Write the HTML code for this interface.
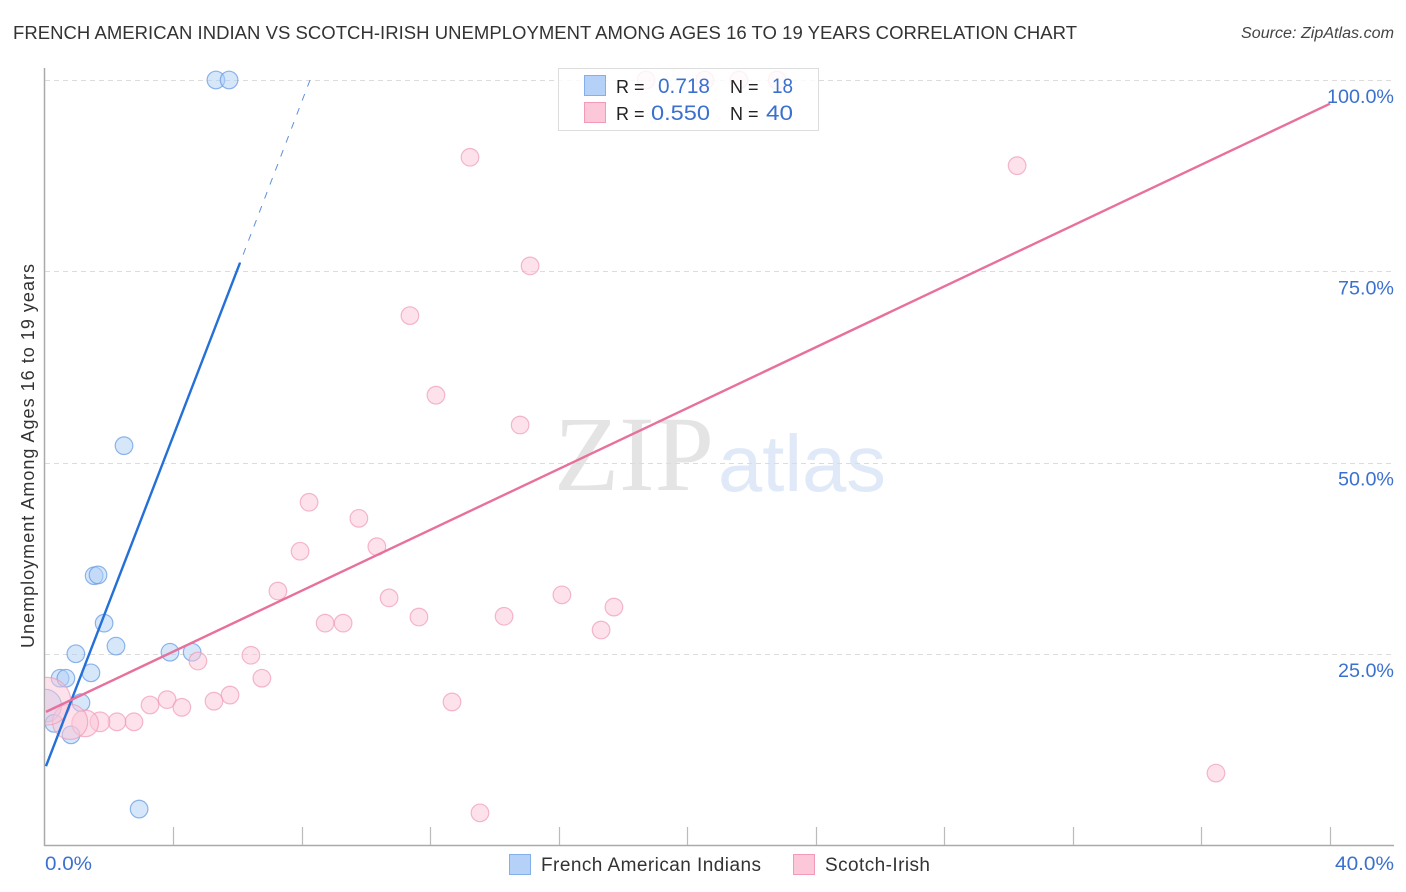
<!DOCTYPE html>
<html lang="en">
<head>
<meta charset="utf-8">
<title>French American Indian vs Scotch-Irish Unemployment Correlation Chart</title>
<style>
html,body{margin:0;padding:0;background:#fff;}
svg{display:block;font-family:"Liberation Sans",sans-serif;}
</style>
</head>
<body>
<svg id="chart" xmlns="http://www.w3.org/2000/svg" width="1406" height="892" viewBox="0 0 1406 892">
  <defs>
    <clipPath id="plot-clip"><rect x="45" y="60" width="1350" height="785"></rect></clipPath>
  </defs>
  <text x="13" y="39" font-size="18.5" fill="#333" textLength="1064" lengthAdjust="spacing">FRENCH AMERICAN INDIAN VS SCOTCH-IRISH UNEMPLOYMENT AMONG AGES 16 TO 19 YEARS CORRELATION CHART</text>
  <text x="1241" y="38" font-size="15.5" font-style="italic" fill="#444" textLength="153" lengthAdjust="spacingAndGlyphs">Source: ZipAtlas.com</text>

  <g>
    <text x="554" y="490" font-family="'Liberation Serif',serif" font-size="107" fill="#e4e4e4" textLength="160" lengthAdjust="spacingAndGlyphs">ZIP</text>
    <text x="718" y="491" font-size="80" fill="#dfe9f8" textLength="168" lengthAdjust="spacingAndGlyphs">atlas</text>
  </g>

  <g id="grid"></g>
  <g id="axes"></g>
  <g id="points" clip-path="url(#plot-clip)"></g>
  <g id="trends"></g>
  <g id="tick-labels"></g>

  <text transform="translate(34,456) rotate(-90)" font-size="18" fill="#333" text-anchor="middle" textLength="384" lengthAdjust="spacing">Unemployment Among Ages 16 to 19 years</text>

  <g>
    <rect x="558.5" y="68.5" width="260" height="62" fill="#fff" fill-opacity="0.82" stroke="#ddd" stroke-width="1"></rect>
    <rect x="584.5" y="75.5" width="21" height="20" fill="#b5d1f7" stroke="#84b0ea"></rect>
    <rect x="584.5" y="102.5" width="21" height="20" fill="#fcc8d9" stroke="#f29ab6"></rect>
    <text x="616" y="93" font-size="18" fill="#222">R =</text>
    <text x="658" y="93" font-size="21" fill="#3a70cf" textLength="52" lengthAdjust="spacingAndGlyphs">0.718</text>
    <text x="730" y="93" font-size="18" fill="#222">N =</text>
    <text x="772" y="93" font-size="21" fill="#3a70cf" textLength="21" lengthAdjust="spacingAndGlyphs">18</text>
    <text x="616" y="120" font-size="18" fill="#222">R =</text>
    <text x="651" y="120" font-size="21" fill="#3a70cf" textLength="59" lengthAdjust="spacingAndGlyphs">0.550</text>
    <text x="730" y="120" font-size="18" fill="#222">N =</text>
    <text x="766" y="120" font-size="21" fill="#3a70cf" textLength="27" lengthAdjust="spacingAndGlyphs">40</text>
  </g>

  <g>
    <g>
      <rect x="509.5" y="854.5" width="21" height="20" fill="#b5d1f7" stroke="#84b0ea"></rect>
      <text x="541" y="871" font-size="19" fill="#333" textLength="220" lengthAdjust="spacing">French American Indians</text>
    </g>
    <g>
      <rect x="793.5" y="854.5" width="21" height="20" fill="#fcc8d9" stroke="#f29ab6"></rect>
      <text x="825" y="871" font-size="19" fill="#333" textLength="105" lengthAdjust="spacing">Scotch-Irish</text>
    </g>
  </g>
</svg>
<script>
const xTickValues = [0, 4, 8, 12, 16, 20, 24, 28, 32, 36, 40];
const yGridValues = [25, 50, 75, 100];
const yTickLabels = ["25.0%", "50.0%", "75.0%", "100.0%"];
const xEndLabels = ["0.0%", "40.0%"];

const blueX = [5.32, 5.73, 2.46, 1.53, 1.65, 1.84, 2.21, 0.96, 3.89, 4.58, 1.43, 0.47, 0.65, 1.12, 0.0, 0.28, 0.81, 2.93];
const blueY = [100, 100, 52.2, 35.2, 35.3, 29.0, 26.0, 25.0, 25.2, 25.2, 22.5, 21.8, 21.8, 18.6, 18.2, 15.9, 14.4, 4.7];
const blueWeight = [1, 1, 1, 1, 1, 1, 1, 1, 1, 1, 1, 1, 1, 1, 3.5, 1, 1, 1];

const pinkX = [18.71, 20.54, 21.6, 22.79, 13.23, 30.26, 15.1, 11.36, 12.17, 14.79, 8.22, 9.77, 7.94, 10.33, 7.25, 10.71, 11.64, 14.29, 8.72, 9.28, 16.09, 17.71, 17.31, 6.41, 4.76, 6.75, 5.76, 5.26, 3.27, 3.8, 4.26, 12.67, 2.77, 2.24, 1.71, 1.25, 0.78, 0.06, 36.45, 13.54];
const pinkY = [100, 100, 100, 100, 89.9, 88.8, 75.7, 69.2, 58.8, 54.9, 44.8, 42.7, 38.4, 39.0, 33.2, 32.3, 29.8, 29.9, 29.0, 29.0, 32.7, 31.1, 28.1, 24.8, 24.05, 21.8, 19.6, 18.8, 18.3, 19.0, 18.0, 18.7, 16.1, 16.1, 16.1, 15.9, 16.1, 18.8, 9.4, 4.2];
const pinkWeight = [1, 1, 1, 1, 1, 1, 1, 1, 1, 1, 1, 1, 1, 1, 1, 1, 1, 1, 1, 1, 1, 1, 1, 1, 1, 1, 1, 1, 1, 1, 1, 1, 1, 1, 1.25, 2.3, 4, 7.3, 1, 1];

const blueTrendX = [0.03, 6.07];
const blueTrendY = [10.3, 76.1];
const blueProjectionX = [8.25, 6.07];
const blueProjectionY = [100, 76.1];
const pinkTrendX = [0.03, 40];
const pinkTrendY = [17.4, 96.9];

const NS = "http://www.w3.org/2000/svg";
const xScale = v => 45 + v * 32.125;
const yScale = v => 845 - v * 7.65;
const radius = w => 8.8 * Math.sqrt(w);

function make(tag, attrs, parent) {
  const el = document.createElementNS(NS, tag);
  for (const k in attrs) el.setAttribute(k, attrs[k]);
  parent.appendChild(el);
  return el;
}

const grid = document.getElementById("grid");
const axes = document.getElementById("axes");
const pts = document.getElementById("points");
const trends = document.getElementById("trends");
const labels = document.getElementById("tick-labels");

yGridValues.forEach(v => {
  const y = Math.round(yScale(v)) + 0.5;
  const line = make("line", {x1: 45, x2: 1394, y1: y, y2: y, stroke: "#dcdcdc", "stroke-width": 1, "stroke-dasharray": "5 4"}, grid);
  
  
});

const yAxis = make("line", {x1: 44.5, x2: 44.5, y1: 68, y2: 846, stroke: "#aaa", "stroke-width": 1.5}, axes);


const xAxis = make("line", {x1: 44, x2: 1394, y1: 845.5, y2: 845.5, stroke: "#aaa", "stroke-width": 1.5}, axes);



xTickValues.slice(1).forEach(v => {
  const x = Math.floor(xScale(v)) + 0.5;
  const tick = make("line", {x1: x, x2: x, y1: 827, y2: 845, stroke: "#bbb", "stroke-width": 1.2}, axes);
  
  
});

function drawSeries(xs, ys, ws, fill, stroke, name) {
  xs.forEach((x, i) => {
    const c = make("circle", {cx: xScale(x), cy: yScale(ys[i]), r: radius(ws[i]), fill: fill, "fill-opacity": 0.5, stroke: stroke, "stroke-opacity": 0.7, "stroke-width": 1.2}, pts);
    
    
  });
}
drawSeries(blueX, blueY, blueWeight, "#b0cff5", "#5f97e2", "point-french-american-indians");
drawSeries(pinkX, pinkY, pinkWeight, "#fcc5d8", "#f09ab6", "point-scotch-irish");

const blueLine = make("line", {x1: xScale(blueTrendX[0]), y1: yScale(blueTrendY[0]), x2: xScale(blueTrendX[1]), y2: yScale(blueTrendY[1]), stroke: "#2470d8", "stroke-width": 2.4}, trends);


const blueDash = make("line", {x1: xScale(blueProjectionX[0]), y1: yScale(blueProjectionY[0]), x2: xScale(blueProjectionX[1]), y2: yScale(blueProjectionY[1]), stroke: "#5f90d8", "stroke-width": 1, "stroke-dasharray": "7 8"}, trends);


const pinkLine = make("line", {x1: xScale(pinkTrendX[0]), y1: yScale(pinkTrendY[0]), x2: xScale(pinkTrendX[1]), y2: yScale(pinkTrendY[1]), stroke: "#e8709c", "stroke-width": 2.4}, trends);



yGridValues.forEach((v, i) => {
  const label = yTickLabels[i];
  const t = make("text", {x: 1394, y: yScale(v) + 23, "font-size": 19.5, fill: "#3a70cf", "text-anchor": "end", textLength: label.length > 5 ? 67 : 56, lengthAdjust: "spacingAndGlyphs"}, labels);
  t.textContent = label;
  
  
});

const xStart = make("text", {x: 45, y: 870, "font-size": 19.5, fill: "#3a70cf", textLength: 47, lengthAdjust: "spacingAndGlyphs"}, labels);
xStart.textContent = xEndLabels[0];


const xEnd = make("text", {x: 1335, y: 870, "font-size": 19.5, fill: "#3a70cf", textLength: 59, lengthAdjust: "spacingAndGlyphs"}, labels);
xEnd.textContent = xEndLabels[1];


</script>
</body>
</html>
